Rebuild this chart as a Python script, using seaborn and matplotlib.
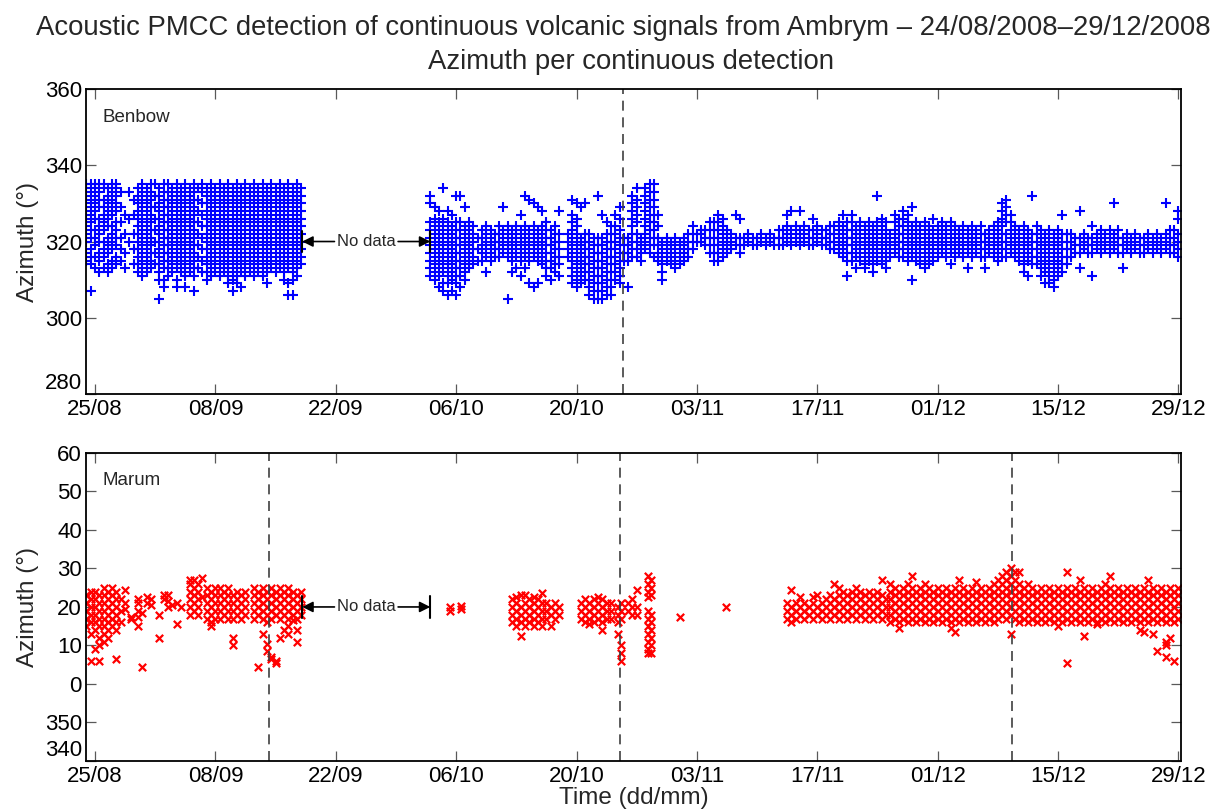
import matplotlib
matplotlib.use("Agg")
import matplotlib.pyplot as plt
import pandas as pd
import seaborn as sns

# x axis: days counted from 24/08/2008 00:00
tick_days = [1, 15, 29, 43, 57, 71, 85, 99, 113, 127]
tick_labels = ["25/08", "08/09", "22/09", "06/10", "20/10",
               "03/11", "17/11", "01/12", "15/12", "29/12"]

benbow_yticks = [280, 300, 320, 340, 360]
# Marum axis wraps through north: -20 -> 340, -10 -> 350
marum_yticks = [-20, -10, 0, 10, 20, 30, 40, 50, 60]
marum_yticklabels = ["340", "350", "0", "10", "20", "30", "40", "50", "60"]

benbow_events = [62.4]
marum_events = [21.2, 62.0, 107.7]
no_data_start, no_data_end = 25.1, 40.0

# Benbow detections: (day, [azimuths])
benbow_cols = [
    (0.0, [315, 317, 320, 322, 324, 326, 328, 330, 332, 334, 335]),
    (0.5, [314, 316, 318, 321, 323, 325, 327, 329, 331, 333, 335, 307]),
    (1.0, [313, 316, 319, 321, 323, 326, 328, 330, 332, 334, 335]),
    (1.5, [312, 315, 317, 320, 322, 324, 326, 329, 331, 333, 335]),
    (2.0, [313, 316, 318, 320, 323, 325, 327, 329, 331, 334, 335]),
    (2.5, [312, 314, 317, 319, 321, 324, 326, 328, 330, 332, 334]),
    (3.0, [313, 315, 318, 320, 322, 324, 327, 329, 331, 333, 335]),
    (3.5, [314, 316, 319, 321, 323, 325, 328, 330, 332, 334, 335]),
    (4.0, [333, 329, 325, 321, 318, 315]), (4.5, [327, 322, 317, 313]),
    (5.0, [333, 326, 320]), (5.5, [331, 327, 322, 318, 314]),
    (6.0, [312, 314, 316, 318, 320, 322, 324, 326, 328, 330, 332, 334]),
    (6.5, [311, 313, 315, 317, 319, 321, 323, 325, 327, 329, 331, 333, 335]),
    (7.0, [312, 314, 316, 318, 320, 322, 324, 326, 328, 330, 332, 334]),
    (7.5, [313, 315, 317, 319, 321, 323, 325, 327, 329, 331, 333, 335]),
    (8.0, [314, 317, 320, 323, 326, 329, 332, 335]),
    (8.5, [305, 310, 312, 314, 316, 318, 320, 322, 324, 326, 328, 330, 332, 334]),
    (9.0, [308, 310, 313, 315, 317, 319, 321, 323, 325, 327, 329, 331, 333, 335]),
    (9.5, [311, 313, 315, 317, 319, 321, 323, 325, 327, 329, 331, 333, 335]),
    (10.0, [312, 314, 316, 318, 320, 322, 324, 326, 328, 330, 332, 334]),
    (10.5, [308, 310, 313, 315, 317, 319, 321, 323, 325, 327, 329, 331, 333, 335]),
    (11.0, [312, 314, 316, 318, 320, 322, 324, 326, 328, 330, 332, 334]),
    (11.5, [308, 311, 313, 315, 317, 319, 321, 323, 325, 327, 329, 331, 333, 335]),
    (12.0, [312, 314, 316, 318, 320, 322, 324, 326, 328, 330, 332, 334]),
    (12.5, [307, 311, 313, 315, 317, 319, 321, 323, 325, 327, 329, 331, 333, 335]),
    (13.0, [313, 316, 319, 322, 325, 328, 331, 334]),
    (13.5, [312, 315, 318, 321, 324, 327, 330, 333, 335]),
    (14.0, [310, 312, 314, 316, 318, 320, 322, 324, 326, 328, 330, 332, 334]),
    (14.5, [311, 313, 315, 317, 319, 321, 323, 325, 327, 329, 331, 333, 335]),
    (15.0, [312, 314, 316, 318, 320, 322, 324, 326, 328, 330, 332, 334]),
    (15.5, [311, 313, 315, 317, 319, 321, 323, 325, 327, 329, 331, 333, 335]),
    (16.0, [312, 314, 316, 318, 320, 322, 324, 326, 328, 330, 332, 334]),
    (16.5, [309, 311, 313, 315, 317, 319, 321, 323, 325, 327, 329, 331, 333, 335]),
    (17.0, [307, 310, 312, 314, 316, 318, 320, 322, 324, 326, 328, 330, 332, 334]),
    (17.5, [309, 311, 313, 315, 317, 319, 321, 323, 325, 327, 329, 331, 333, 335]),
    (18.0, [308, 312, 314, 316, 318, 320, 322, 324, 326, 328, 330, 332, 334]),
    (18.5, [311, 313, 315, 317, 319, 321, 323, 325, 327, 329, 331, 333, 335]),
    (19.0, [312, 314, 316, 318, 320, 322, 324, 326, 328, 330, 332, 334]),
    (19.5, [311, 313, 315, 317, 319, 321, 323, 325, 327, 329, 331, 333, 335]),
    (20.0, [312, 314, 316, 318, 320, 322, 324, 326, 328, 330, 332, 334]),
    (20.5, [311, 313, 315, 317, 319, 321, 323, 325, 327, 329, 331, 333, 335]),
    (21.0, [309, 312, 314, 316, 318, 320, 322, 324, 326, 328, 330, 332, 334]),
    (21.5, [313, 315, 317, 319, 321, 323, 325, 327, 329, 331, 333, 335]),
    (22.0, [312, 314, 316, 318, 320, 322, 324, 326, 328, 330, 332, 334]),
    (22.5, [313, 315, 317, 319, 321, 323, 325, 327, 329, 331, 333, 335]),
    (23.0, [310, 312, 314, 316, 318, 320, 322, 324, 326, 328, 330, 332, 334]),
    (23.5, [306, 309, 313, 315, 317, 319, 321, 323, 325, 327, 329, 331, 333, 335]),
    (24.0, [306, 310, 312, 314, 316, 318, 320, 322, 324, 326, 328, 330, 332, 334]),
    (24.5, [311, 313, 315, 317, 319, 321, 323, 325, 327, 329, 331, 333, 335]),
    (25.0, [314, 316, 318, 320, 322, 324, 326, 328, 330, 332, 334]),
    (40.0, [311, 313, 315, 317, 319, 321, 323, 325, 330, 332]),
    (40.5, [310, 312, 314, 316, 318, 320, 322, 324, 326, 329]),
    (41.0, [308, 311, 313, 315, 317, 319, 321, 323, 325, 328]),
    (41.5, [307, 309, 312, 314, 316, 318, 320, 322, 324, 326, 334]),
    (42.0, [306, 309, 311, 313, 315, 317, 319, 321, 323, 325, 328]),
    (42.5, [307, 310, 312, 314, 316, 318, 320, 322, 324, 327]),
    (43.0, [306, 309, 311, 313, 315, 317, 319, 321, 323, 325, 332]),
    (43.5, [308, 311, 313, 315, 317, 319, 321, 323, 325, 332]),
    (44.0, [310, 312, 314, 316, 318, 320, 322, 324, 329]),
    (44.5, [313, 315, 317, 319, 321, 323, 325]),
    (45.0, [314, 316, 318, 320, 322, 324]), (45.5, [315, 318, 321]),
    (46.0, [315, 317, 319, 321, 323]), (46.5, [312, 316, 318, 320, 322, 324]),
    (47.0, [315, 317, 319, 321, 323]), (47.5, [316, 318, 320, 322]),
    (48.0, [316, 318, 320, 322, 324]), (48.5, [317, 319, 321, 323, 329]),
    (49.0, [316, 318, 320, 322, 324, 305]), (49.5, [315, 317, 319, 321, 323, 312]),
    (50.0, [316, 318, 320, 322, 324, 313]), (50.5, [315, 317, 319, 321, 323, 327, 311]),
    (51.0, [316, 318, 320, 322, 324, 332, 313]), (51.5, [315, 317, 319, 321, 323, 331, 309]),
    (52.0, [316, 318, 320, 322, 324, 330, 308]), (52.5, [315, 317, 319, 321, 323, 329, 309]),
    (53.0, [314, 316, 318, 320, 322, 324, 328]),
    (53.5, [311, 313, 315, 317, 319, 321, 323, 325]),
    (54.0, [310, 313, 315, 317, 319, 321, 323]),
    (54.5, [312, 314, 316, 318, 320, 322, 324]),
    (55.0, [311, 314, 316, 318, 320, 322, 328]),
    (56.0, [316, 318, 320, 322]),
    (56.5, [309, 311, 313, 315, 317, 319, 321, 323, 325, 327, 331]),
    (57.0, [308, 310, 312, 314, 316, 318, 320, 322, 324, 326, 330]),
    (57.5, [309, 311, 313, 315, 317, 319, 321, 329]),
    (58.0, [310, 312, 314, 316, 318, 320, 322, 330]),
    (58.5, [306, 308, 310, 312, 314, 316, 318, 320, 322]),
    (59.0, [305, 307, 309, 311, 313, 315, 317, 319, 321]),
    (59.5, [305, 307, 309, 311, 313, 315, 317, 319, 321, 332]),
    (60.0, [305, 307, 309, 311, 313, 315, 317, 319, 321, 327]),
    (60.5, [306, 308, 310, 312, 314, 316, 318, 320, 322, 325]),
    (61.0, [306, 308, 310, 312, 314, 316, 318, 320, 322, 324]),
    (61.5, [310, 312, 314, 316, 318, 320, 322, 324, 327]),
    (62.0, [309, 311, 313, 315, 317, 319, 321, 323, 326, 329]),
    (62.5, [315, 317, 319, 321]), (63.0, [315, 317, 319, 321, 308]),
    (63.5, [316, 318, 320, 322, 324, 326, 328, 330, 332]),
    (64.0, [316, 318, 320, 322, 325, 327, 329, 331, 334]),
    (64.5, [315, 317, 319, 321]),
    (65.0, [318, 320, 322, 324, 326, 328, 330, 332, 334]),
    (65.5, [317, 319, 321, 323, 325, 327, 329, 331, 333, 335]),
    (66.0, [316, 319, 321, 323, 325, 327, 329, 331, 333, 335]),
    (66.5, [315, 317, 319, 321, 324, 327]), (67.0, [314, 316, 318, 320, 312, 310]),
    (67.5, [315, 317, 319, 321]), (68.0, [314, 316, 318, 320]),
    (68.5, [315, 317, 319, 321, 313]), (69.0, [314, 316, 318, 320]),
    (69.5, [315, 317, 319, 321]), (70.0, [316, 318, 320, 322]),
    (70.5, [318, 320, 322, 324]), (71.0, [320, 322]), (71.5, [320, 322, 323]),
    (72.0, [319, 321, 323]), (72.5, [317, 319, 321, 323, 325]),
    (73.0, [315, 317, 319, 321, 323, 325]), (73.5, [315, 317, 319, 321, 323, 325, 327]),
    (74.0, [316, 318, 320, 322, 324, 326]), (74.5, [317, 319, 321, 323]),
    (75.0, [318, 320, 322]), (75.5, [319, 321, 327]), (76.0, [319, 321, 326, 317]),
    (76.5, [319, 321]), (77.0, [320, 322]), (77.5, [319, 321]), (78.0, [319, 321]),
    (78.5, [320, 322]), (79.0, [319, 321]), (79.5, [320, 322]), (80.0, [319, 321]),
    (80.5, [319, 321, 323]), (81.0, [319, 321, 323]), (81.5, [320, 322, 324, 327]),
    (82.0, [319, 321, 323, 328]), (82.5, [320, 322, 324]), (83.0, [319, 321, 323, 328]),
    (83.5, [320, 322, 324]), (84.0, [319, 321, 323]), (84.5, [319, 321, 323, 326]),
    (85.0, [320, 322, 324]), (85.5, [319, 321, 323]), (86.0, [319, 321, 323]),
    (86.5, [318, 320, 322, 324]), (87.0, [318, 320, 322, 324]),
    (87.5, [317, 319, 321, 323, 325]), (88.0, [316, 318, 320, 322, 324, 327]),
    (88.5, [315, 317, 319, 321, 323, 325, 311]), (89.0, [315, 317, 319, 321, 323, 325, 327]),
    (89.5, [316, 318, 320, 322, 324, 313]), (90.0, [315, 317, 319, 321, 323, 325]),
    (90.5, [314, 316, 318, 320, 322, 324, 313]), (91.0, [315, 317, 319, 321, 323, 325]),
    (91.5, [314, 316, 318, 320, 322, 324, 312]), (92.0, [315, 317, 319, 321, 323, 325, 332]),
    (92.5, [314, 316, 318, 320, 322, 324, 326]), (93.0, [315, 317, 319, 321, 323, 325, 313]),
    (93.5, [316, 318, 320, 322]), (94.0, [317, 319, 321, 323, 325, 327]),
    (94.5, [316, 318, 320, 322, 324, 326]), (95.0, [316, 318, 320, 322, 324, 326, 328]),
    (95.5, [315, 317, 319, 321, 323, 325, 327]), (96.0, [316, 318, 320, 322, 324, 329, 310]),
    (96.5, [315, 317, 319, 321, 323, 325]), (97.0, [316, 318, 320, 322, 324, 314]),
    (97.5, [315, 317, 319, 321, 323, 325, 313]), (98.0, [316, 318, 320, 322, 324, 314]),
    (98.5, [315, 317, 319, 321, 323, 326]), (99.0, [316, 318, 320, 322, 324]),
    (99.5, [317, 319, 321, 323, 325]), (100.0, [316, 318, 320, 322, 324]),
    (100.5, [317, 319, 321, 323, 325, 314]), (101.0, [316, 318, 320, 322, 324]),
    (101.5, [317, 319, 321, 323]), (102.0, [316, 318, 320, 322, 324]),
    (102.5, [317, 319, 321, 323, 313]), (103.0, [316, 318, 320, 322, 324]),
    (103.5, [317, 319, 321, 323]), (104.0, [316, 318, 320, 322, 324]),
    (104.5, [316, 318, 320, 322, 313]), (105.0, [317, 319, 321, 323]),
    (105.5, [316, 318, 320, 322, 324]), (106.0, [315, 317, 319, 321, 323, 325]),
    (106.5, [316, 318, 320, 322, 324, 326, 328, 330]),
    (107.0, [316, 318, 320, 322, 325, 327, 329, 331]),
    (107.5, [317, 319, 321, 323, 325, 327]), (108.0, [316, 318, 320, 322, 324]),
    (108.5, [315, 317, 319, 321, 323]), (109.0, [314, 316, 318, 320, 322, 324, 312]),
    (109.5, [315, 317, 319, 321, 323, 311]), (110.0, [314, 316, 318, 320, 322, 332]),
    (110.5, [314, 316, 318, 320, 322, 324]), (111.0, [313, 315, 317, 319, 321, 323, 311]),
    (111.5, [312, 314, 316, 318, 320, 322, 309]),
    (112.0, [311, 313, 315, 317, 319, 321, 323, 309]),
    (112.5, [310, 312, 314, 316, 318, 320, 322, 308]),
    (113.0, [311, 313, 315, 317, 319, 321, 323]),
    (113.5, [312, 314, 316, 318, 320, 322, 327]), (114.0, [314, 316, 318, 320, 322]),
    (114.5, [316, 318, 320, 322]), (115.0, [317, 319, 321]),
    (115.5, [317, 319, 321, 328, 313]), (116.0, [318, 320, 322]),
    (116.5, [317, 319, 321]), (117.0, [317, 319, 321, 311, 324]),
    (117.5, [318, 320, 322]), (118.0, [317, 319, 321, 323]), (118.5, [318, 320, 322]),
    (119.0, [317, 319, 321, 323]), (119.5, [318, 320, 322, 330]),
    (120.0, [317, 319, 321, 323]), (120.5, [317, 319, 321, 313]), (121.0, [318, 320, 322]),
    (121.5, [317, 319, 321]), (122.0, [318, 320, 322]), (122.5, [317, 319, 321]),
    (123.0, [317, 319, 321]), (123.5, [318, 320, 322]), (124.0, [317, 319, 321]),
    (124.5, [318, 320, 322]), (125.0, [317, 319, 321]), (125.5, [318, 320, 322, 330]),
    (126.0, [317, 319, 321, 323]), (126.5, [317, 319, 321, 323]),
    (127.0, [316, 318, 320, 322, 326, 328]),
]

# Marum detections (deg, values below 0 would read 340/350)
marum_cols = [
    (0.0, [15, 17, 19, 21, 23]), (0.5, [13, 16, 18, 20, 22, 24, 6]),
    (1.0, [14, 16, 18, 20, 22, 24, 9]), (1.5, [12, 15, 17, 19, 21, 23, 6, 10]),
    (2.0, [13, 15, 17, 19, 21, 23, 25, 11]), (2.5, [14, 16, 18, 20, 22, 24, 12]),
    (3.0, [15, 17, 19, 21, 23, 25]), (3.5, [14, 16, 18, 20, 22, 24, 6.5]),
    (4.0, [16, 19, 22]), (4.5, [24.5, 21, 19.5]), (5.2, [17, 17.5]),
    (6.0, [22, 21, 19, 17.5, 15]), (6.5, [4.5, 18.5]), (7.0, [22.5, 21]),
    (7.5, [22, 20.5]), (8.5, [18, 12]), (9.0, [23, 22]), (9.5, [23, 21.5, 20]),
    (10.0, [20.5]), (10.5, [21, 15.5]), (11.0, [20]),
    (12.0, [18, 20, 22, 24, 26, 27]), (12.5, [19, 21, 23, 25, 27]),
    (13.0, [18, 20, 22, 24, 26]), (13.5, [22.5, 27.5]),
    (14.0, [17, 19, 21, 23, 25]), (14.5, [16, 18, 20, 22, 24, 15]),
    (15.0, [17, 19, 21, 23, 25]), (15.5, [17, 19, 21, 23, 25]),
    (16.0, [18, 20, 22, 24]), (16.5, [17, 19, 21, 23, 25]),
    (17.0, [17, 19, 21, 23, 12, 10]), (17.5, [18, 20, 22, 24]),
    (18.0, [17, 19, 21, 23]), (18.5, [18, 20, 22, 24]),
    (19.5, [17, 19, 21, 23, 25]), (20.0, [18, 20, 22, 24, 4.5]),
    (20.5, [17, 19, 21, 23, 25, 13]), (21.0, [16, 18, 20, 22, 24, 8.5, 10.5]),
    (21.5, [17, 19, 21, 23, 25, 6.5, 7]), (22.0, [18, 20, 22, 24, 5.5, 6]),
    (22.5, [17, 19, 21, 23, 25, 12]), (23.0, [18, 20, 22, 24, 14]),
    (23.5, [17, 19, 21, 23, 25, 13, 15]), (24.0, [18, 20, 22, 24, 16.5]),
    (24.5, [17, 19, 21, 23, 11, 14]), (25.0, [18, 20, 22, 24]),
    (42.3, [19, 20]), (43.6, [19.5, 20.3]),
    (49.5, [16, 18, 20, 22]), (50.0, [15, 17, 19, 21, 22.5]),
    (50.5, [16, 18, 20, 23, 12.5]), (51.0, [15, 17, 19, 21, 23]),
    (51.5, [16, 18, 20, 22]), (52.0, [15, 17, 19, 21, 22.5]),
    (52.5, [16, 18, 20, 22]), (53.0, [15, 17, 19, 21, 23.5]),
    (53.5, [17, 19, 21]), (54.0, [18, 20, 15]), (54.5, [17, 19, 21]),
    (55.0, [18, 20]),
    (57.5, [17, 19, 21]), (58.0, [16, 18, 20, 22]), (58.5, [17, 19, 21, 15.5]),
    (59.0, [16, 18, 20, 22]), (59.5, [17, 19, 21, 22.5]), (60.0, [16, 18, 20, 22, 14]),
    (60.5, [17, 19, 21]), (61.0, [17, 19, 21]),
    (61.8, [16, 18, 20, 13]), (62.2, [17, 19, 21, 10, 8, 6]),
    (63.0, [19, 21]), (63.5, [18, 20, 22]), (64.0, [18, 20, 24.5]),
    (65.3, [28, 26, 24, 22.5, 19, 17, 15, 13, 11, 9, 8]),
    (65.7, [27, 25, 23, 18, 16, 14, 12, 10, 8]),
    (69.0, [17.5]), (74.4, [20]),
    (81.5, [17, 19, 21]), (82.0, [16, 18, 20, 24.5]), (82.5, [17, 19, 21]),
    (83.0, [18, 20, 22.5]), (83.5, [17, 19, 21]), (84.0, [18, 20]),
    (84.5, [17, 19, 21, 22.5]), (85.0, [18, 20, 23]), (85.5, [17, 19, 21]),
    (86.0, [18, 20, 22]), (86.5, [17, 19, 21, 23]), (87.0, [18, 20, 22, 26]),
    (87.5, [17, 19, 21, 23, 25]), (88.0, [18, 20, 22, 24]),
    (88.5, [17, 19, 21, 23]), (89.0, [18, 20, 22, 24]), (89.5, [17, 19, 21, 23, 25]),
    (90.0, [18, 20, 22, 24]), (90.5, [17, 19, 21, 23]), (91.0, [18, 20, 22, 24]),
    (91.5, [17, 19, 21, 23]), (92.0, [18, 20, 22, 24]), (92.5, [17, 19, 21, 23, 27]),
    (93.0, [18, 20, 22]), (93.5, [16, 18, 20, 22, 24, 26]),
    (94.0, [17, 19, 21, 23, 25]), (94.5, [16, 18, 20, 22, 24, 14.5]),
    (95.0, [17, 19, 21, 23, 25]), (95.5, [16, 18, 20, 22, 24, 26]),
    (96.0, [17, 19, 21, 23, 25, 28]), (96.5, [16, 18, 20, 22, 24]),
    (97.0, [17, 19, 21, 23, 25]), (97.5, [16, 18, 20, 22, 24, 26]),
    (98.0, [17, 19, 21, 23, 25]), (98.5, [16, 18, 20, 22, 24]),
    (99.0, [17, 19, 21, 23, 25]), (99.5, [16, 18, 20, 22, 24]),
    (100.0, [17, 19, 21, 23, 25]), (100.5, [16, 18, 20, 22, 24, 14.5]),
    (101.0, [17, 19, 21, 23, 25, 13.5]), (101.5, [16, 18, 20, 22, 24, 27]),
    (102.0, [17, 19, 21, 23, 25]), (102.5, [16, 18, 20, 22, 24]),
    (103.0, [17, 19, 21, 23, 25]), (103.5, [16, 18, 20, 22, 24, 26.5]),
    (104.0, [17, 19, 21, 23, 25]), (104.5, [16, 18, 20, 22, 24]),
    (105.0, [17, 19, 21, 23, 25]), (105.5, [16, 18, 20, 22, 24, 26]),
    (106.0, [17, 19, 21, 23, 25, 27]), (106.5, [18, 20, 22, 24, 26, 28]),
    (107.0, [17, 19, 21, 23, 25, 27, 29]), (107.5, [18, 20, 22, 24, 26, 28, 30, 13]),
    (108.0, [17, 19, 21, 23, 25, 27, 29]), (108.5, [16, 18, 20, 22, 24, 26, 29]),
    (109.0, [17, 19, 21, 23, 25]), (109.5, [16, 18, 20, 22, 24, 26]),
    (110.0, [17, 19, 21, 23, 25]), (110.5, [16, 18, 20, 22, 24]),
    (111.0, [17, 19, 21, 23, 25]), (111.5, [16, 18, 20, 22, 24]),
    (112.0, [17, 19, 21, 23, 25]), (112.5, [16, 18, 20, 22, 24]),
    (113.0, [17, 19, 21, 23, 25, 15]), (113.5, [16, 18, 20, 22, 24]),
    (114.0, [17, 19, 21, 23, 25, 29, 5.5]), (114.5, [16, 18, 20, 22, 24]),
    (115.0, [17, 19, 21, 23, 25]), (115.5, [16, 18, 20, 22, 24, 27]),
    (116.0, [17, 19, 21, 23, 25, 12.5]), (116.5, [16, 18, 20, 22, 24]),
    (117.0, [17, 19, 21, 23, 25]), (117.5, [16, 18, 20, 22, 24, 15.5]),
    (118.0, [17, 19, 21, 23, 25]), (118.5, [16, 18, 20, 22, 24, 26]),
    (119.0, [17, 19, 21, 23, 25, 28]), (119.5, [16, 18, 20, 22, 24]),
    (120.0, [17, 19, 21, 23, 25]), (120.5, [16, 18, 20, 22, 24]),
    (121.0, [17, 19, 21, 23, 25]), (121.5, [16, 18, 20, 22, 24]),
    (122.0, [17, 19, 21, 23, 25]), (122.5, [16, 18, 20, 22, 24, 14]),
    (123.0, [17, 19, 21, 23, 25, 13.5]), (123.5, [16, 18, 20, 22, 24, 27]),
    (124.0, [17, 19, 21, 23, 25, 13]), (124.5, [16, 18, 20, 22, 24, 8.5]),
    (125.0, [17, 19, 21, 23, 25]), (125.5, [16, 18, 20, 22, 24, 11, 10, 7]),
    (126.0, [17, 19, 21, 23, 25, 12]), (126.5, [16, 18, 20, 22, 24, 6]),
    (127.0, [17, 19, 21, 23, 25]),
]


def to_frame(cols):
    days, az = [], []
    for day, vals in cols:
        days += [day] * len(vals)
        az += vals
    return pd.DataFrame({"day": days, "azimuth": az})


def no_data_marker(ax, y, half):
    mid = (no_data_start + no_data_end) / 2
    ax.text(mid, y, "No data", ha="center", va="center", fontsize=12)
    for edge, start in [(no_data_start, mid - 3.7), (no_data_end, mid + 3.7)]:
        ax.annotate("", xy=(edge, y), xytext=(start, y),
                    arrowprops=dict(arrowstyle="-|>", color="k", lw=1.2,
                                    mutation_scale=16, shrinkA=0, shrinkB=0))
        ax.plot([edge, edge], [y - half, y + half], color="k", lw=1.5)


def style_axes(ax):
    ax.set_xlim(-0.05, 127.3)
    ax.set_xticks(tick_days)
    ax.set_xticklabels(tick_labels)
    ax.tick_params(direction="in", length=7.5, width=0.9, color="0.35",
                   labelcolor="k", labelsize=16, top=True, right=True)
    ax.tick_params(axis="x", pad=3.5)
    ax.tick_params(axis="y", pad=3)
    for sp in ax.spines.values():
        sp.set_color("k")
        sp.set_linewidth(1.3)
    ax.set_xlabel("")
    ax.set_ylabel("Azimuth (°)", fontsize=17.5, labelpad=4)


sns.set_style("ticks")
plt.rcParams["font.family"] = ["Liberation Sans", "DejaVu Sans"]

fig = plt.figure(figsize=(12.16, 8.11), dpi=100)
ax1 = fig.add_axes([0.0707, 0.5142, 0.9005, 0.376])
ax2 = fig.add_axes([0.0707, 0.0617, 0.9005, 0.3798])

benbow = to_frame(benbow_cols)
marum = to_frame(marum_cols)

sns.scatterplot(data=benbow, x="day", y="azimuth", marker="+", color="blue",
                s=52, linewidth=1.5, ax=ax1)
sns.scatterplot(data=marum, x="day", y="azimuth", marker="x", color="red",
                s=28, linewidth=1.6, ax=ax2)

for t in benbow_events:
    ax1.axvline(t, color="0.25", lw=1.2, ls=(0, (6, 4)))
for t in marum_events:
    ax2.axvline(t, color="0.25", lw=1.2, ls=(0, (6, 4)))

style_axes(ax1)
style_axes(ax2)
ax1.set_ylim(280, 360)
ax1.set_yticks(benbow_yticks)
ax2.set_ylim(-20, 60)
ax2.set_yticks(marum_yticks)
ax2.set_yticklabels(marum_yticklabels)
ax2.set_xlabel("Time (dd/mm)", fontsize=17.5, labelpad=0)

# lowest y label sits just above the corner so it clears the first date label
for ax in (ax1, ax2):
    ax.get_yticklabels()[0].set_verticalalignment("bottom")

no_data_marker(ax1, 320, 2.8)
no_data_marker(ax2, 20, 2.8)

ax1.text(0.0155, 0.908, "Benbow", transform=ax1.transAxes, fontsize=13.5, va="center")
ax2.text(0.0155, 0.909, "Marum", transform=ax2.transAxes, fontsize=13.5, va="center")

fig.text(623 / 1216, 1 - 28 / 811,
         "Acoustic PMCC detection of continuous volcanic signals from Ambrym \u2013 24/08/2008\u201329/12/2008",
         ha="center", va="center", fontsize=19.8)
fig.text(631 / 1216, 1 - 62 / 811, "Azimuth per continuous detection",
         ha="center", va="center", fontsize=19.8)

fig.savefig("out.png", dpi=100)
